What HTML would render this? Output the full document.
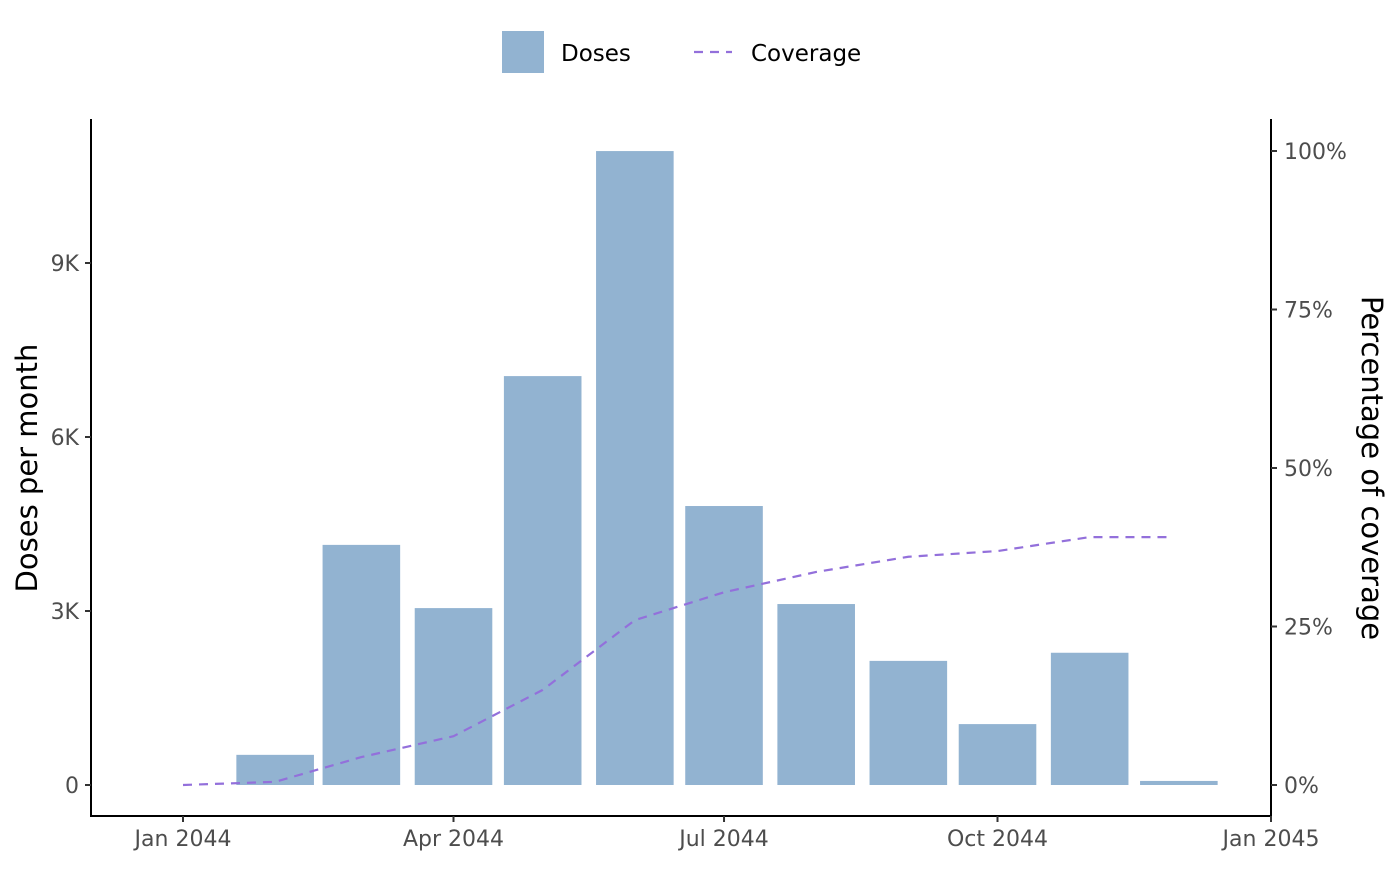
<!DOCTYPE html>
<html><head><meta charset="utf-8"><style>
body{margin:0;background:#fff}
svg text{font-family:"DejaVu Sans","Liberation Sans",sans-serif}
</style></head><body>
<svg id="chart" width="1400" height="866" viewBox="0 0 1400 866">
<g id="legend">
<rect x="502" y="31" width="42" height="42" fill="#92B3D1"/>
<text x="561" y="61" font-size="23" fill="#000">Doses</text>
<line x1="694" y1="52" x2="732" y2="52" stroke="#9370DB" stroke-width="2.2" stroke-dasharray="9,7"/>
<text x="751" y="61" font-size="23" fill="#000">Coverage</text>
</g>
<g id="bars"></g>
<path id="covline" fill="none" stroke="#9370DB" stroke-width="2.2" stroke-dasharray="9,7"/>
<g id="axes"></g>
<text transform="translate(37,468) rotate(-90)" text-anchor="middle" font-size="29" fill="#000">Doses per month</text>
<text transform="translate(1362,468) rotate(90)" text-anchor="middle" font-size="29" fill="#000">Percentage of coverage</text>
</svg>
<script>
const barMonths=["2044-02-01","2044-03-01","2044-04-01","2044-05-01","2044-06-01","2044-07-01","2044-08-01","2044-09-01","2044-10-01","2044-11-01","2044-12-01"];
const doses=[520,4140,3050,7050,10930,4810,3120,2140,1050,2280,70];
const covDates=["2044-01-01","2044-02-01","2044-03-01","2044-04-01","2044-05-01","2044-06-01","2044-07-01","2044-08-01","2044-09-01","2044-10-01","2044-11-01","2044-11-29"];
const coverage=[0,0.5,4.4,7.7,15,26,30.4,33.6,36,36.9,39.1,39.1];
const xTicks=["2044-01-01","2044-04-01","2044-07-01","2044-10-01","2045-01-01"];
const xTickLabels=["Jan 2044","Apr 2044","Jul 2044","Oct 2044","Jan 2045"];
const yTicks=[0,3000,6000,9000];
const yTickLabels=["0","3K","6K","9K"];
const rTicks=[0,25,50,75,100];
const rTickLabels=["0%","25%","50%","75%","100%"];

const NS="http://www.w3.org/2000/svg";
const t0=Date.UTC(2044,0,1),t1=Date.UTC(2045,0,1);
function d(s){const p=s.split("-");return Date.UTC(+p[0],+p[1]-1,+p[2]);}
function x(s){return 183+(d(s)-t0)/(t1-t0)*1088;}
function y(v){return 785-v/3000*174;}
function yr(p){return 785-p/100*634;}
const dayPx=1088/366,bw=0.9*29*dayPx;
function mk(tag,attrs,parent){const e=document.createElementNS(NS,tag);for(const k in attrs)e.setAttribute(k,attrs[k]);parent.appendChild(e);return e;}
const bars=document.getElementById("bars");
barMonths.forEach((m,i)=>{
 const r=mk("rect",{x:x(m)-bw/2,y:y(doses[i]),width:bw,height:y(0)-y(doses[i]),fill:"#92B3D1"},bars);
 
 
});
document.getElementById("covline").setAttribute("d",covDates.map((c,i)=>(i?"L":"M")+x(c)+","+yr(coverage[i])).join(" "));
const ax=document.getElementById("axes");
const a1=mk("line",{x1:91,y1:119,x2:91,y2:817,stroke:"#000","stroke-width":2},ax);


const a2=mk("line",{x1:1271,y1:119,x2:1271,y2:817,stroke:"#000","stroke-width":2},ax);


const a3=mk("line",{x1:90,y1:816,x2:1272,y2:816,stroke:"#000","stroke-width":2},ax);


yTicks.forEach((v,i)=>{
 mk("line",{x1:85,x2:91,y1:y(v),y2:y(v),stroke:"#333","stroke-width":2},ax);
 const t=mk("text",{x:79,y:y(v)+8,"text-anchor":"end","font-size":22,fill:"#4d4d4d"},ax);
 t.textContent=yTickLabels[i];
 
 
});
rTicks.forEach((v,i)=>{
 mk("line",{x1:1271,x2:1277,y1:yr(v),y2:yr(v),stroke:"#333","stroke-width":2},ax);
 const t=mk("text",{x:1284,y:yr(v)+8,"font-size":22,fill:"#4d4d4d"},ax);
 t.textContent=rTickLabels[i];
 
 
});
xTicks.forEach((s,i)=>{
 mk("line",{x1:x(s),x2:x(s),y1:816,y2:822,stroke:"#333","stroke-width":2},ax);
 const t=mk("text",{x:x(s),y:846,"text-anchor":"middle","font-size":22,fill:"#4d4d4d"},ax);
 t.textContent=xTickLabels[i];
 
 
});
</script>
</body></html>
